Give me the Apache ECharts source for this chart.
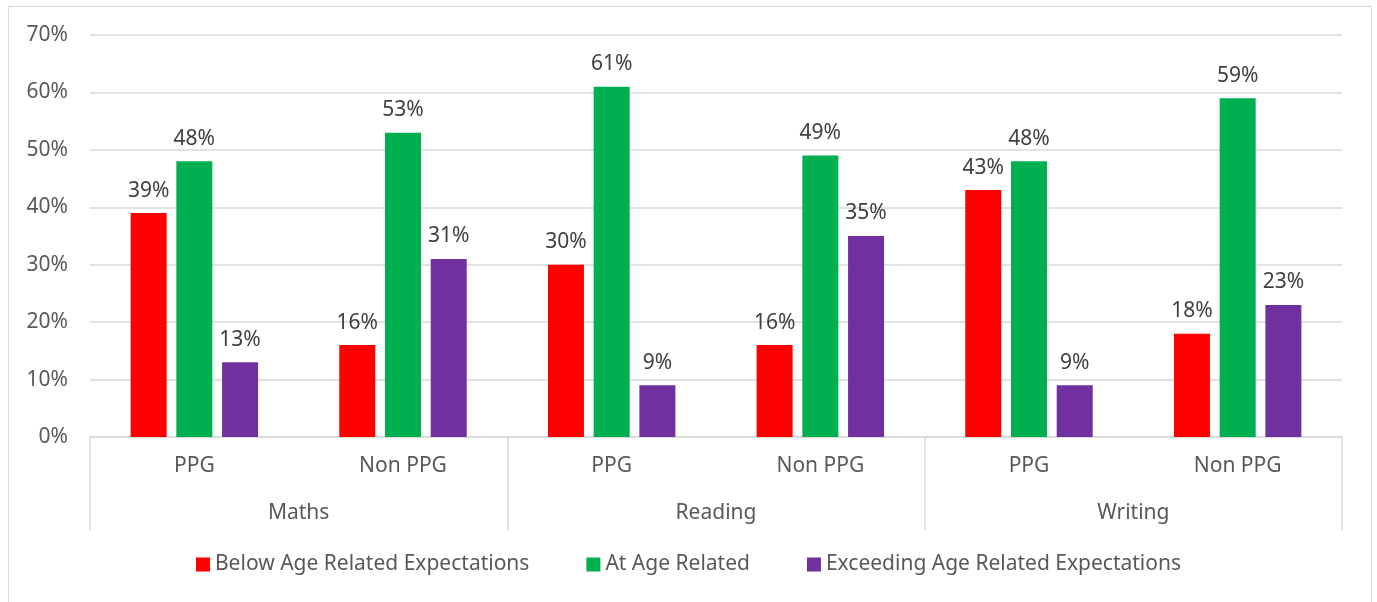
<!DOCTYPE html>
<html lang="en">
<head>
    <meta charset="UTF-8">
    <title>PPG vs Non PPG</title>
    <script src="https://cdn.jsdelivr.net/npm/echarts@6/dist/echarts.min.js"></script>
    <style>
        html, body { margin: 0; padding: 0; background: #fff; }
        #grafica { width: 1377px; height: 602px; }
    </style>
</head>
<body>
    <div id="grafica"></div>
    <script>
        // datos
        const subjects = ['Maths', 'Reading', 'Writing'];
        const groups = ['PPG', 'Non PPG', 'PPG', 'Non PPG', 'PPG', 'Non PPG'];
        const seriesNames = ['Below Age Related Expectations', 'At Age Related', 'Exceeding Age Related Expectations'];
        const below = [39, 16, 30, 16, 43, 18];
        const atAge = [48, 53, 61, 49, 48, 59];
        const exceeding = [13, 31, 9, 35, 9, 23];
        const colores = ['#ff0000', '#00b050', '#7030a0'];

        const fuente = 'Noto Sans';
        const tam = 21;
        const etiqueta = {
            show: true,
            position: 'top',
            distance: 12,
            formatter: '{c}%',
            color: '#404040',
            fontSize: tam,
            fontFamily: fuente
        };

        function serie(nombre, valores, i) {
            return {
                name: nombre,
                type: 'bar',
                data: valores,
                barWidth: 36,
                barGap: '27%',
                itemStyle: { color: colores[i] },
                label: etiqueta
            };
        }

        let myChart = echarts.init(document.getElementById('grafica'));

        let option = {
            animation: false,
            textStyle: { fontFamily: fuente },
            graphic: [{
                type: 'rect',
                shape: { x: 8.5, y: 6.5, width: 1363, height: 620 },
                style: { fill: 'none', stroke: '#d9d9d9', lineWidth: 1 }
            }],
            grid: { left: 90, right: 35, top: 35, bottom: 165 },
            legend: {
                bottom: 22,
                left: 'center',
                itemWidth: 14,
                itemHeight: 14,
                itemGap: 57,
                icon: 'rect',
                textStyle: { color: '#595959', fontSize: tam, fontFamily: fuente },
                data: seriesNames
            },
            xAxis: [
                {
                    type: 'category',
                    data: groups,
                    axisLine: { lineStyle: { color: '#d9d9d9', width: 1.5 } },
                    axisTick: { show: false },
                    axisLabel: { color: '#595959', fontSize: tam, margin: 19, fontFamily: fuente }
                },
                {
                    type: 'category',
                    data: subjects,
                    position: 'bottom',
                    offset: 0,
                    axisLine: { show: false },
                    axisTick: { show: true, length: 93, lineStyle: { color: '#d9d9d9', width: 1.5 } },
                    axisLabel: { color: '#595959', fontSize: tam, margin: 66, fontFamily: fuente }
                }
            ],
            yAxis: {
                type: 'value',
                min: 0,
                max: 70,
                interval: 10,
                axisLabel: { formatter: '{value}%', color: '#595959', fontSize: tam, margin: 22, fontFamily: fuente },
                splitLine: { lineStyle: { color: '#d9d9d9', width: 1.5 } },
                axisLine: { show: false },
                axisTick: { show: false }
            },
            series: [
                serie(seriesNames[0], below, 0),
                serie(seriesNames[1], atAge, 1),
                serie(seriesNames[2], exceeding, 2)
            ]
        };

        myChart.setOption(option);
    </script>
</body>
</html>
